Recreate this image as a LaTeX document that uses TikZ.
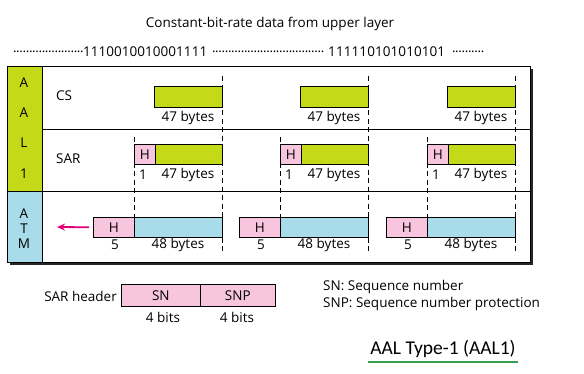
\documentclass[tikz,border=0pt]{standalone}
\usepackage{fontspec}
\setmainfont{Open Sans}
\newfontfamily\calfont{Carlito}
\usetikzlibrary{arrows.meta}
\definecolor{limeg}{RGB}{196,218,24}
\definecolor{pinkh}{RGB}{247,198,222}
\definecolor{atmblue}{RGB}{168,220,234}
\definecolor{arrowmag}{RGB}{226,0,122}
\definecolor{ulgreen}{RGB}{56,158,78}
% spread each character of a string into a box of fixed width
\newlength\spreadwd
\newcommand\spreadchars[2]{\setlength\spreadwd{#1}\myspreadloop#2\relax}
\def\myspreadloop#1{\ifx#1\relax\else\makebox[\spreadwd]{#1}\expandafter\myspreadloop\fi}
\begin{document}
\begin{tikzpicture}[x=1pt,y=-1pt,
  font=\fontsize{13.5}{16}\selectfont,
  txt/.style={inner sep=0pt, anchor=center},
  bitstxt/.style={inner sep=0pt, anchor=west},
  box/.style={draw=black, line width=0.6pt, inner sep=0pt, anchor=north west},
  greenbox/.style={box, fill=limeg},
  pinkbox/.style={box, fill=pinkh},
  bluebox/.style={box, fill=atmblue},
  dashline/.style={line width=0.6pt, dash pattern=on 5pt off 3.5pt},
]
\useasboundingbox (0,0) rectangle (584,373);
\fill[white] (0,0) rectangle (584,373);

% title and bit stream
\node[txt] (title) at (270,24) {Constant-bit-rate data from upper layer};
\node[bitstxt] (dots1) at (13,52) {\spreadchars{3.2pt}{......................}};
\node[bitstxt] (bits1) at (83,52) {\spreadchars{7.75pt}{1110010010001111}};
\node[bitstxt] (dots2) at (212,52) {\spreadchars{3.2pt}{...................................}};
\node[bitstxt] (bits2) at (328,52) {\spreadchars{7.8pt}{111110101010101}};
\node[bitstxt] (dots3) at (452,52) {\spreadchars{3.2pt}{..........}};

% outer frame with shadow
\fill[black!85] (10,69) rectangle (533,265);
\fill[white] (7,66) rectangle (530,262);
\fill[limeg] (7,66) rectangle (42,191);
\fill[atmblue] (7,191) rectangle (42,262);
\draw[line width=0.7pt] (7,66) rectangle (530,262);
\draw[line width=0.7pt] (42,66) -- (42,262);
\draw[line width=0.7pt] (42,129) -- (530,129);
\draw[line width=0.7pt] (7,191) -- (530,191);

% left column letters
\node[txt] (a1) at (24,83) {A};
\node[txt] (a2) at (24,113) {A};
\node[txt] (l1) at (24,143) {L};
\node[txt] (n1) at (24,174) {1};
\node[txt] (ta) at (24,214) {A};
\node[txt] (tt) at (24,229) {T};
\node[txt] (tm) at (24,244) {M};

% row labels
\node[txt, anchor=west] (cs) at (56,96) {CS};
\node[txt, anchor=west] (sar) at (56,159) {SAR};

% three columns of cells
\foreach \R/\i in {222/1,368/2,515/3}{
  \coordinate (dtop\i) at (\R,76);
  \coordinate (dbot\i) at (\R,252);
  \coordinate (htop\i) at (\R-88,137);
  \coordinate (hbot\i) at (\R-88,217);
  \draw[dashline] (dtop\i) -- (dbot\i);
  \draw[dashline] (htop\i) -- (hbot\i);
  % CS
  \node[greenbox, minimum width=68pt, minimum height=21pt] (cs\i) at (\R-68,86) {};
  \node[txt] (csl\i) at (\R-34,118) {47 bytes};
  % SAR
  \node[pinkbox, minimum width=21pt, minimum height=20pt] (sh\i) at (\R-88,144) {};
  \node[txt] at (sh\i.center) {H};
  \node[greenbox, minimum width=67pt, minimum height=20pt] (sd\i) at (\R-67,144) {};
  \node[txt] (sl1\i) at (\R-79,175) {1};
  \node[txt] (sl2\i) at (\R-34,175) {47 bytes};
  % ATM
  \node[pinkbox, minimum width=41pt, minimum height=20pt] (ah\i) at (\R-129,217) {};
  \node[txt] at (ah\i.center) {H};
  \node[bluebox, minimum width=88pt, minimum height=20pt] (ad\i) at (\R-88,217) {};
  \node[txt] (al1\i) at (\R-107,245) {5};
  \node[txt] (al2\i) at (\R-44,245) {48 bytes};
}

% outgoing arrow
\coordinate (arrowend) at (57,227);
\draw[arrowmag, line width=1.8pt, shorten <=4pt, -{Stealth[length=8pt,width=7pt]}] (ah1.west) -- (arrowend);

% SAR header
\node[txt, anchor=east] (sarh) at (117,296) {SAR header};
\node[pinkbox, minimum width=79pt, minimum height=22pt] (sn) at (121,284) {};
\node[txt] at (sn.center) {SN};
\node[pinkbox, minimum width=75pt, minimum height=22pt] (snp) at (200,284) {};
\node[txt] at (snp.center) {SNP};
\node[txt] (snb) at (163,317) {4 bits};
\node[txt] (snpb) at (237,317) {4 bits};

% legend
\node[txt, anchor=west] (leg1) at (323,287) {SN: Sequence number};
\node[txt, anchor=west] (leg2) at (323,304) {SNP: Sequence number protection};

% caption
\node[txt, font=\calfont\fontsize{19.5}{22}\selectfont] (cap) at (443,349) {AAL Type-1 (AAL1)};
\draw[ulgreen, line width=2.5pt] (368,362) -- (518,362);
\end{tikzpicture}
\end{document}
